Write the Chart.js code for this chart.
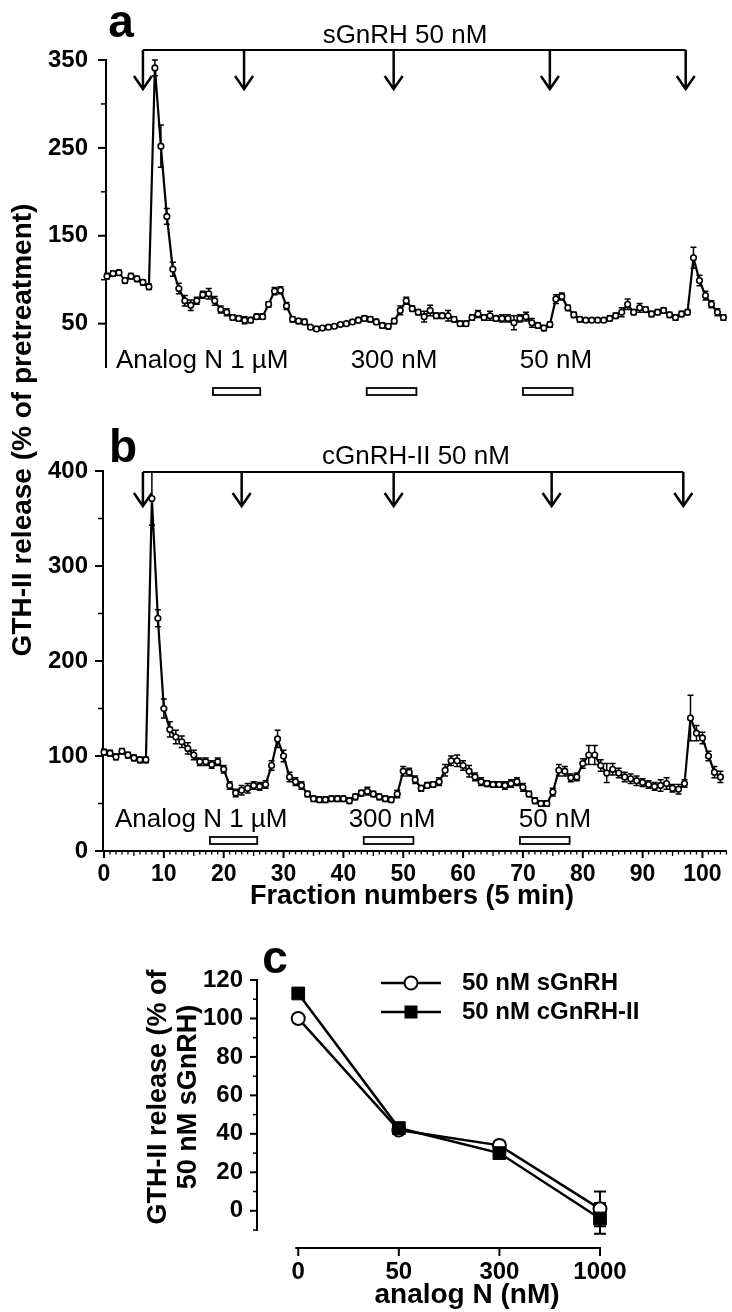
<!DOCTYPE html>
<html><head><meta charset="utf-8">
<script src="https://cdn.jsdelivr.net/npm/chart.js@4.4.1/dist/chart.umd.min.js"></script>
<style>
html,body{margin:0;padding:0;background:#fff;}
#wrap{position:relative;width:732px;height:1312px;overflow:hidden;background:#fff;}
canvas{position:absolute;left:0;}
</style></head><body>
<div id="wrap">
<canvas id="cb" width="732" height="915" style="top:0;"></canvas>
<canvas id="ca" width="732" height="400" style="top:0;"></canvas>
<canvas id="cc" width="732" height="412" style="top:900px;"></canvas>
</div>
<script>
// ---------- DATA ----------
const fractions = [0,1,2,3,4,5,6,7,8,9,10,11,12,13,14,15,16,17,18,19,20,21,22,23,24,25,26,27,28,29,30,31,32,33,34,35,36,37,38,39,40,41,42,43,44,45,46,47,48,49,50,51,52,53,54,55,56,57,58,59,60,61,62,63,64,65,66,67,68,69,70,71,72,73,74,75,76,77,78,79,80,81,82,83,84,85,86,87,88,89,90,91,92,93,94,95,96,97,98,99,100,101,102,103];

// Panel a: sGnRH 50 nM pulses (% of pretreatment)
const panelA = [104,107,108,99,104,101,97,92,341,252,
  172,112,90,76,71,76,83,84,76,66,
  63,57,56,54,54,58,58,72,87,88,
  70,55,53,52,46,44,45,46,47,49,
  50,52,54,56,55,52,48,47,53,65,
  76,67,63,58,65,59,59,59,55,50,
  50,57,61,57,59,56,56,56,51,56,
  58,51,48,45,49,78,81,68,60,55,
  54,54,54,54,56,59,63,72,63,68,
  66,61,63,65,60,57,61,63,125,99,
  82,72,63,57];
const panelAErr = [3,3,3,3,3,3,3,3,9,24,
  9,8,6,6,6,4,4,6,5,4,
  4,3,3,4,3,3,3,3,4,4,
  4,3,3,3,2,2,2,2,2,2,
  2,2,3,3,3,3,3,3,3,5,
  4,3,3,6,6,3,3,6,3,3,
  3,3,4,3,5,3,4,4,8,4,
  5,5,3,3,3,5,4,3,3,3,
  2,2,2,2,3,3,5,6,3,5,
  3,3,3,3,3,3,3,3,12,6,
  5,4,4,3];

// Panel b: cGnRH-II 50 nM pulses (% of pretreatment)
const panelB = [104,103,99,105,101,98,96,96,371,245,
  150,128,120,115,108,101,94,94,91,94,
  86,69,61,64,66,69,68,70,90,118,
  100,78,73,69,60,55,54,54,55,55,
  55,53,57,61,63,60,57,55,54,60,
  84,83,75,66,69,70,73,85,95,95,
  90,84,78,73,71,70,70,69,71,73,
  67,60,53,50,50,62,85,84,77,78,
  92,101,101,90,82,86,82,78,76,74,
  72,70,68,69,71,66,65,71,140,124,
  119,100,83,78];
const panelBErr = [3,3,3,3,3,3,3,3,28,9,
  10,8,7,6,6,5,4,4,4,4,
  4,4,4,5,5,4,4,4,5,9,
  6,5,4,4,3,3,3,3,3,3,
  3,3,3,3,4,3,3,3,3,4,
  5,4,4,3,3,3,4,6,5,6,
  5,6,4,4,3,3,3,4,4,4,
  4,3,3,3,3,4,6,5,4,4,
  5,10,10,6,10,6,5,5,5,5,
  4,4,4,6,6,4,5,4,24,8,
  6,5,6,6];

// pulse times (fraction numbers) and analog N application windows
const pulsesA = [6.0, 22.9, 47.9, 74.0, 96.7];
const pulsesB = [6.5, 23.0, 48.4, 74.8, 96.8];
const analogWindows = [[17.7,25.6],[43.4,51.7],[69.5,77.8]];
const analogLabels = ['Analog N 1 \u00b5M','300 nM','50 nM'];

// tick labels
const aYTicks = [50,150,250,350];
const aYMinor = [100,200,300];
const bYTicks = [0,100,200,300,400];
const bYMinor = [50,150,250,350];
const bXTicks = [0,10,20,30,40,50,60,70,80,90,100];

// Panel c
const cCats = ['0','50','300','1000'];
const cSGnRH = [100,42,34,1];
const cSGnRHErr = [2,2,2,9];
const cCGnRH = [113,43,30,-4];
const cCGnRHErr = [2,2,2,8];
const cYTicks = [0,20,40,60,80,100,120];
const cYMinor = [-10,10,30,50,70,90,110];

// ---------- STYLE ----------
const FONT = "'Liberation Sans', Arial, Helvetica, sans-serif";
Chart.defaults.font.family = FONT;
Chart.defaults.color = '#000';

function hasFont(name){
  const c=document.createElement('canvas').getContext('2d');
  c.font="bold 40px monospace"; const w1=c.measureText('350 Wabc').width;
  c.font="bold 40px '"+name+"', monospace"; const w2=c.measureText('350 Wabc').width;
  return Math.abs(w1-w2)>0.5;
}
const NARROW = hasFont('Liberation Sans Narrow');
const tickFont = NARROW ? {family:"'Liberation Sans Narrow', 'Liberation Sans', Arial, sans-serif", size:28, weight:'bold'}
                        : {size:24, weight:'bold'};
const xTickFontB = NARROW ? {family:"'Liberation Sans Narrow', 'Liberation Sans', Arial, sans-serif", size:27, weight:'bold'}
                        : {size:23, weight:'bold'};

function yTickMarks(ctx, scale, left, major, minor, lmaj, lmin){
  ctx.save(); ctx.strokeStyle='#000'; ctx.lineWidth=2;
  major.forEach(v=>{const y=scale.getPixelForValue(v); ctx.beginPath(); ctx.moveTo(left-lmaj,y); ctx.lineTo(left,y); ctx.stroke();});
  ctx.lineWidth=1.5;
  minor.forEach(v=>{const y=scale.getPixelForValue(v); ctx.beginPath(); ctx.moveTo(left-lmin,y); ctx.lineTo(left,y); ctx.stroke();});
  ctx.restore();
}
function drawErr(ctx, xs, ys, xvals, vals, errs, cap, lw){
  ctx.save(); ctx.strokeStyle='#000'; ctx.lineWidth=lw;
  vals.forEach((v,i)=>{
    const e=errs[i]; if(!e) return;
    const x=xs.getPixelForValue(xvals[i]);
    const y1=ys.getPixelForValue(v+e), y2=ys.getPixelForValue(v-e);
    ctx.beginPath(); ctx.moveTo(x,y1); ctx.lineTo(x,y2);
    ctx.moveTo(x-cap,y1); ctx.lineTo(x+cap,y1);
    ctx.moveTo(x-cap,y2); ctx.lineTo(x+cap,y2); ctx.stroke();
  });
  ctx.restore();
}
function arrow(ctx,x,y0,y1){
  ctx.beginPath(); ctx.moveTo(x,y0); ctx.lineTo(x,y1-1); ctx.stroke();
  ctx.beginPath(); ctx.moveTo(x-9,y1-13); ctx.lineTo(x,y1); ctx.lineTo(x+9,y1-13); ctx.stroke();
}
function annot(chart, cfg){
  const {ctx, scales:{x}} = chart;
  ctx.save();
  ctx.fillStyle='#000'; ctx.strokeStyle='#000';
  ctx.font = "bold 46px "+FONT; ctx.textAlign='center'; ctx.textBaseline='alphabetic';
  ctx.fillText(cfg.letter, cfg.letterX, cfg.letterY);
  ctx.font = "26px "+FONT; ctx.textBaseline='middle';
  ctx.fillText(cfg.title, cfg.titleX, cfg.titleY);
  ctx.lineWidth=2.2; ctx.lineCap='butt'; ctx.lineJoin='miter';
  const px = cfg.pulses.map(p=>x.getPixelForValue(p));
  ctx.beginPath(); ctx.moveTo(px[0],cfg.bracketY); ctx.lineTo(px[px.length-1],cfg.bracketY); ctx.stroke();
  ctx.lineWidth=2.5;
  px.forEach(p=>arrow(ctx,p,cfg.bracketY,cfg.tipY));
  ctx.lineWidth=1.8;
  analogWindows.forEach(w=>{
    const x1=x.getPixelForValue(w[0]), x2=x.getPixelForValue(w[1]);
    ctx.fillStyle='#fff'; ctx.fillRect(x1,cfg.boxY,x2-x1,7);
    ctx.strokeRect(x1,cfg.boxY,x2-x1,7);
  });
  ctx.fillStyle='#000';
  ctx.font = "26px "+FONT; ctx.textBaseline='middle';
  ctx.textAlign='left'; ctx.fillText(analogLabels[0], cfg.lab0X, cfg.labY);
  ctx.textAlign='center';
  ctx.fillText(analogLabels[1], cfg.lab1X, cfg.labY);
  ctx.fillText(analogLabels[2], cfg.lab2X, cfg.labY);
  ctx.restore();
}

function traceDataset(vals){
  return { data: fractions.map((f,i)=>({x:f,y:vals[i]})), borderColor:'#000', borderWidth:2.2,
    pointRadius:2.8, pointBorderWidth:1.6, pointBackgroundColor:'#fff', pointBorderColor:'#000',
    tension:0, clip:false };
}
const baseOpts = {responsive:false, animation:false, events:[], plugins:{legend:{display:false}, tooltip:{enabled:false}}};

// ---------- PANEL B (drawn underneath, also carries shared y title) ----------
new Chart(document.getElementById('cb'), {
  type:'line',
  data:{datasets:[traceDataset(panelB)]},
  options:Object.assign({}, baseOpts, {
    layout:{padding:{top:471,bottom:0,right:1,left:0}},
    scales:{
      x:{type:'linear', min:-0.17, max:104,
        afterFit:s=>{s.height=64;},
        afterBuildTicks:s=>{s.ticks=bXTicks.map(v=>({value:v}));},
        grid:{display:false, drawTicks:false},
        border:{display:true,color:'#000',width:2},
        ticks:{padding:10, autoSkip:false, maxRotation:0, font:xTickFontB, color:'#000'}},
      y:{min:0,max:400,
        afterFit:s=>{s.width=103;},
        afterBuildTicks:s=>{s.ticks=bYTicks.map(v=>({value:v}));},
        grid:{display:false, drawTicks:false},
        border:{display:true,color:'#000',width:2},
        ticks:{padding:15, font:tickFont, color:'#000'}}
    }
  }),
  plugins:[{
    id:'bdeco',
    beforeDatasetsDraw(chart){ drawErr(chart.ctx, chart.scales.x, chart.scales.y, fractions, panelB, panelBErr, 3, 1.5); },
    afterDraw(chart){
      const {ctx, scales:{x,y}, chartArea} = chart;
      yTickMarks(ctx, y, chartArea.left, bYTicks, bYMinor, 8, 5);
      ctx.save(); ctx.strokeStyle='#000';
      for(let v=0; v<=104; v++){
        const px=x.getPixelForValue(v);
        const L = v%10===0 ? 7 : (v%5===0 ? 5 : 3.5);
        ctx.lineWidth = v%10===0 ? 2 : 1.3;
        ctx.beginPath(); ctx.moveTo(px,chartArea.bottom); ctx.lineTo(px,chartArea.bottom+L); ctx.stroke();
      }
      ctx.fillStyle='#000'; ctx.textAlign='center'; ctx.textBaseline='middle';
      ctx.font="bold 27px "+FONT;
      ctx.fillText('Fraction numbers (5 min)', 412, 897);
      ctx.translate(23, 430); ctx.rotate(-Math.PI/2);
      ctx.font="bold 28px "+FONT;
      ctx.fillText('GTH-II release (% of pretreatment)', 0, 0);
      ctx.restore();
      annot(chart, {letter:'b', letterX:123, letterY:462, title:'cGnRH-II 50 nM', titleX:416, titleY:457,
        pulses:pulsesB, bracketY:472, tipY:506, boxY:837, labY:820, lab0X:115, lab1X:392, lab2X:555});
    }
  }]
});

// ---------- PANEL A ----------
new Chart(document.getElementById('ca'), {
  type:'line',
  data:{datasets:[traceDataset(panelA)]},
  options:Object.assign({}, baseOpts, {
    layout:{padding:{top:60,bottom:11,right:1,left:0}},
    scales:{
      x:{type:'linear', min:-0.17, max:103.5, display:false},
      y:{min:0,max:350,
        afterFit:s=>{s.width=106;},
        afterBuildTicks:s=>{s.ticks=aYTicks.map(v=>({value:v}));},
        grid:{display:false, drawTicks:false},
        border:{display:true,color:'#000',width:2},
        ticks:{padding:18, font:tickFont, color:'#000'}}
    }
  }),
  plugins:[{
    id:'adeco',
    beforeDatasetsDraw(chart){ drawErr(chart.ctx, chart.scales.x, chart.scales.y, fractions, panelA, panelAErr, 3, 1.5); },
    afterDraw(chart){
      const {ctx, scales:{y}, chartArea} = chart;
      yTickMarks(ctx, y, chartArea.left, aYTicks, aYMinor, 8, 5);
      annot(chart, {letter:'a', letterX:121, letterY:37, title:'sGnRH 50 nM', titleX:405, titleY:36,
        pulses:pulsesA, bracketY:50, tipY:89, boxY:388, labY:361, lab0X:116, lab1X:394, lab2X:556});
    }
  }]
});

// ---------- PANEL C ----------
const cIdx = cCats.map((c,i)=>i);
new Chart(document.getElementById('cc'), {
  type:'line',
  data:{datasets:[
    {label:'50 nM sGnRH', data:cSGnRH.map((v,i)=>({x:cIdx[i],y:v})), borderColor:'#000', borderWidth:2.5,
      pointStyle:'circle', pointRadius:6.5, pointBorderWidth:2, pointBackgroundColor:'#fff', pointBorderColor:'#000',
      tension:0, clip:false, order:2},
    {label:'50 nM cGnRH-II', data:cCGnRH.map((v,i)=>({x:cIdx[i],y:v})), borderColor:'#000', borderWidth:2.5,
      pointStyle:'rect', pointRadius:9, pointBorderWidth:1, pointBackgroundColor:'#000', pointBorderColor:'#000',
      tension:0, clip:false, order:1}
  ]},
  options:Object.assign({}, baseOpts, {
    layout:{padding:{top:80,bottom:0,right:132,left:0}},
    scales:{
      x:{type:'linear', min:-0.41, max:3,
        afterFit:s=>{s.height=82;},
        afterBuildTicks:s=>{s.ticks=cIdx.map(i=>({value:i}));},
        grid:{display:false, drawTicks:false},
        border:{display:false},
        ticks:{padding:28, autoSkip:false, maxRotation:0, font:tickFont, color:'#000',
          callback:(v,i)=>cCats[i]}},
      y:{min:-10,max:120,
        afterFit:s=>{s.width=257;},
        afterBuildTicks:s=>{s.ticks=cYTicks.map(v=>({value:v}));},
        grid:{display:false, drawTicks:false},
        border:{display:true,color:'#000',width:2},
        ticks:{padding:14, font:tickFont, color:'#000'}}
    }
  }),
  plugins:[{
    id:'cdeco',
    beforeDatasetsDraw(chart){
      const {ctx, scales:{x,y}} = chart;
      drawErr(ctx, x, y, cIdx, cSGnRH, cSGnRHErr, 6, 2);
      drawErr(ctx, x, y, cIdx, cCGnRH, cCGnRHErr, 6, 2);
    },
    afterDraw(chart){
      const {ctx, scales:{x,y}, chartArea} = chart;
      yTickMarks(ctx, y, chartArea.left, cYTicks, cYMinor, 7, 4);
      ctx.save(); ctx.strokeStyle='#000'; ctx.fillStyle='#000';
      const ax = chartArea.bottom + 18;
      const x0 = x.getPixelForValue(0), x3 = x.getPixelForValue(cCats.length-1);
      ctx.lineWidth=2; ctx.beginPath(); ctx.moveTo(x0-3,ax); ctx.lineTo(x3+1,ax); ctx.stroke();
      cIdx.forEach(i=>{const px=x.getPixelForValue(i); ctx.beginPath(); ctx.moveTo(px,ax); ctx.lineTo(px,ax+8); ctx.stroke();});
      const items=[{y:83, sq:false},{y:112, sq:true}];
      const labels=[chart.data.datasets[0].label, chart.data.datasets[1].label];
      items.forEach((it,k)=>{
        ctx.lineWidth=2.5; ctx.beginPath(); ctx.moveTo(381,it.y); ctx.lineTo(441,it.y); ctx.stroke();
        if(it.sq){ ctx.fillRect(411-6.5,it.y-6.5,13,13); }
        else { ctx.fillStyle='#fff'; ctx.beginPath(); ctx.arc(411,it.y,6.5,0,Math.PI*2); ctx.fill(); ctx.lineWidth=2; ctx.stroke(); ctx.fillStyle='#000'; }
        ctx.font="bold 24px "+FONT; ctx.textAlign='left'; ctx.textBaseline='middle';
        ctx.fillText(labels[k], 462, it.y);
      });
      ctx.font="bold 46px "+FONT; ctx.textAlign='center'; ctx.textBaseline='alphabetic';
      ctx.fillText('c', 275, 73);
      ctx.textBaseline='middle';
      ctx.font="bold 28px "+FONT;
      ctx.fillText('analog N (nM)', 467, 395);
      ctx.save(); ctx.translate(159,197); ctx.rotate(-Math.PI/2);
      ctx.font="bold 27px "+FONT;
      ctx.fillText('GTH-II release (% of', 0, 0);
      ctx.fillText('50 nM sGnRH)', 0, 30);
      ctx.restore();
      ctx.restore();
    }
  }]
});
</script>
</body></html>
